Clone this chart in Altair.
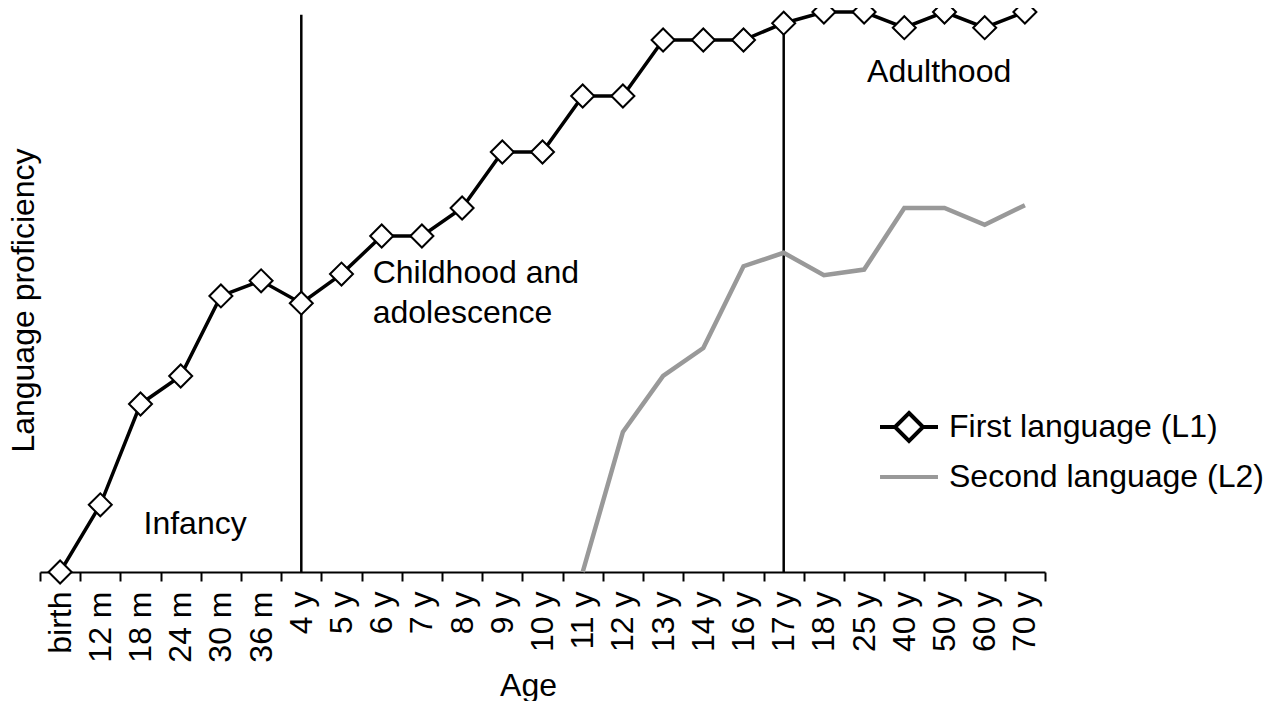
import altair as alt
import pandas as pd

# ---- data ----
ages = ["birth", "12 m", "18 m", "24 m", "30 m", "36 m", "4 y", "5 y", "6 y", "7 y",
        "8 y", "9 y", "10 y", "11 y", "12 y", "13 y", "14 y", "16 y", "17 y", "18 y",
        "25 y", "40 y", "50 y", "60 y", "70 y"]
l1_values = [0, 12, 30, 35, 49.3, 52, 48, 53.2, 60, 60,
             65, 75, 75, 85, 85, 95, 95, 95, 98, 100,
             100, 97.2, 100, 97.2, 100]
l2_ages = ["11 y", "12 y", "13 y", "14 y", "16 y", "17 y", "18 y",
           "25 y", "40 y", "50 y", "60 y", "70 y"]
l2_values = [0, 25, 35, 40, 54.6, 57, 53, 54, 65, 65, 62, 65.5]

series_names = ["First language (L1)", "Second language (L2)"]
divider_ages = ["4 y", "17 y"]
divider_low = [0, 0]
divider_high = [99.5, 99.5]

stage_labels_a = ["Infancy", "Adulthood"]
stage_ages_a = ["18 m", "25 y"]
stage_values_a = [6.8, 87.5]
stage_labels_b = ["Childhood and", "adolescence"]
stage_ages_b = ["6 y", "6 y"]
stage_values_b = [51.6, 44.5]

FONT = "Liberation Sans"

l1_df = pd.DataFrame({"age": ages, "value": l1_values})
l2_df = pd.DataFrame({"age": l2_ages, "value": l2_values})
div_df = pd.DataFrame({"age": divider_ages, "low": divider_low, "high": divider_high})
stage_a = pd.DataFrame({"label": stage_labels_a, "age": stage_ages_a, "value": stage_values_a})
stage_b = pd.DataFrame({"label": stage_labels_b, "age": stage_ages_b, "value": stage_values_b})
legend_df = pd.DataFrame({"series": series_names})

x_scale = alt.Scale(type="band", domain=ages, paddingInner=0, paddingOuter=0)
y_scale = alt.Scale(domain=[0, 100], nice=False, zero=True)

x_axis = alt.Axis(
    title="Age", labelAngle=-90, labelFontSize=32, labelFont=FONT, labelColor="black",
    labelPadding=10, labelOverlap=False, labelLimit=300, labelFlush=False,
    tickSize=9, tickWidth=2, tickColor="black", tickBand="extent",
    domainColor="black", domainWidth=2, grid=False,
    titleFontSize=32, titleFont=FONT, titleFontWeight="normal", titleColor="black",
    titleX=488, titleY=123, titleBaseline="alphabetic",
)
y_axis = alt.Axis(
    title="Language proficiency", labels=False, ticks=False, domain=False, grid=False,
    titleFontSize=32, titleFont=FONT, titleFontWeight="normal", titleColor="black",
    titlePadding=0, titleY=288,
)

X = alt.X("age:N", scale=x_scale, sort=ages, axis=x_axis)
Y = alt.Y("value:Q", scale=y_scale, axis=y_axis)

rules = alt.Chart(div_df).mark_rule(color="black", strokeWidth=2.5).encode(
    x=X, y=alt.Y("low:Q", scale=y_scale, axis=y_axis), y2="high:Q"
)

l2_line = alt.Chart(l2_df).mark_line(color="#999999", strokeWidth=4.5).encode(x=X, y=Y)
l1_line = alt.Chart(l1_df).mark_line(color="black", strokeWidth=3.5).encode(x=X, y=Y)
l1_pts = alt.Chart(l1_df).mark_point(
    shape="diamond", filled=True, fill="white", stroke="black", strokeWidth=2,
    size=529, opacity=1
).encode(x=X, y=Y)

text_a = alt.Chart(stage_a).mark_text(
    align="left", baseline="alphabetic", fontSize=32, font=FONT, color="black", dx=3
).encode(x=X, y=Y, text="label:N")
text_b = alt.Chart(stage_b).mark_text(
    align="left", baseline="alphabetic", fontSize=32, font=FONT, color="black", dx=-9
).encode(x=X, y=Y, text="label:N")

path_l1 = "M-2.07,0H-1M1,0H2.07M0,-1L1,0L0,1L-1,0Z"
path_l2 = "M-2.07,0H2.07"
leg = alt.Legend(
    title=None, orient="none", legendX=853, legendY=399, padding=0,
    labelFontSize=32, labelFont=FONT, labelColor="black", labelLimit=500,
    labelOffset=24, symbolSize=784, symbolStrokeWidth=4, rowPadding=12,
    symbolOpacity=1,
)
legend_layer = alt.Chart(legend_df).mark_point(
    filled=False, opacity=0, size=784, strokeWidth=4
).encode(
    shape=alt.Shape("series:N", scale=alt.Scale(domain=series_names, range=[path_l1, path_l2]), legend=leg),
    color=alt.Color("series:N", scale=alt.Scale(domain=series_names, range=["black", "#999999"]), legend=leg),
)

chart = alt.layer(rules, l2_line, l1_line, l1_pts, text_a, text_b, legend_layer).properties(
    width=1005, height=560,
    autosize=alt.AutoSizeParams(type="none"),
    padding={"left": 32, "top": 4, "right": 225, "bottom": 129},
    background="white",
).configure_view(stroke=None)

chart.save("out.html", embed_options={"renderer": "svg", "actions": False})
